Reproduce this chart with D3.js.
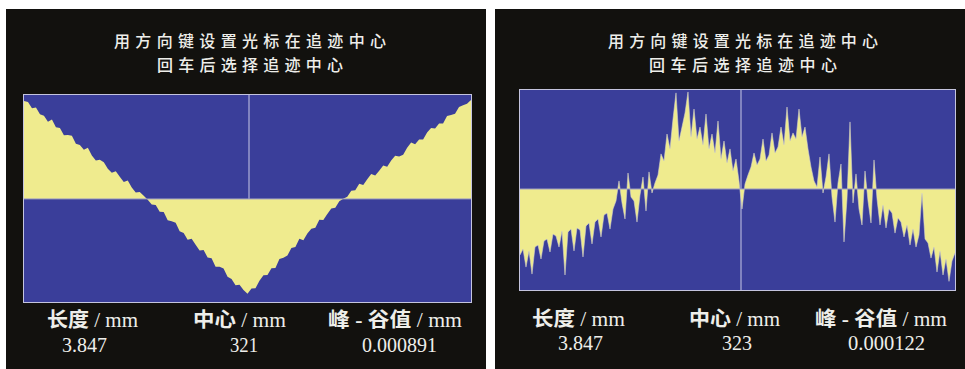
<!DOCTYPE html>
<html>
<head>
<meta charset="utf-8">
<script src="https://cdn.jsdelivr.net/npm/d3@7/dist/d3.min.js"></script>
<style>
  html, body { margin: 0; padding: 0; background: #ffffff; }
  svg { display: block; }
</style>
</head>
<body>
<svg id="chart" width="965" height="369"></svg>
<script>
// Screen text
const titleLines = ["用方向键设置光标在追迹中心", "回车后选择追迹中心"];
const statLabels = [["长度", " / mm"], ["中心", " / mm"], ["峰 - 谷值", " / mm"]];
const leftStats = ["3.847", "321", "0.000891"];
const rightStats = ["3.847", "323", "0.000122"];

// Left trace: surface profile deviation, µm (peak - valley = 0.891 µm)
const leftProfile = [
  0.450, 0.445, 0.417, 0.420, 0.389, 0.382, 0.354, 0.365, 0.329, 0.326,
  0.293, 0.294, 0.290, 0.253, 0.248, 0.226, 0.235, 0.199, 0.177, 0.180,
  0.169, 0.139, 0.120, 0.127, 0.102, 0.078, 0.085, 0.053, 0.029, 0.032,
  0.015, -0.004, -0.026, -0.028, -0.059, -0.060, -0.098, -0.103, -0.109, -0.149,
  -0.157, -0.188, -0.183, -0.211, -0.237, -0.234, -0.269, -0.273, -0.312, -0.311,
  -0.320, -0.357, -0.368, -0.396, -0.394, -0.418, -0.436, -0.411, -0.410, -0.376,
  -0.350, -0.349, -0.318, -0.317, -0.276, -0.270, -0.260, -0.225, -0.221, -0.183,
  -0.190, -0.159, -0.137, -0.132, -0.096, -0.097, -0.069, -0.044, -0.040, -0.011,
  0.001, 0.010, 0.038, 0.040, 0.070, 0.064, 0.090, 0.115, 0.108, 0.130,
  0.154, 0.148, 0.177, 0.198, 0.195, 0.203, 0.235, 0.259, 0.251, 0.273,
  0.273, 0.305, 0.326, 0.324, 0.346, 0.347, 0.381, 0.385, 0.391, 0.422,
  0.430, 0.437, 0.455
];

// Right trace: surface profile deviation, µm (peak - valley = 0.122 µm)
const rightProfile = [
  -0.0425, -0.0387, -0.0503, -0.0399, -0.0548, -0.0374, -0.0361, -0.0451, -0.0335, -0.0322,
  -0.0406, -0.0290, -0.0303, -0.0374, -0.0271, -0.0554, -0.0277, -0.0258, -0.0399, -0.0251,
  -0.0264, -0.0438, -0.0238, -0.0219, -0.0354, -0.0213, -0.0193, -0.0309, -0.0168, -0.0155,
  -0.0258, -0.0129, -0.0077, 0.0052, -0.0090, -0.0193, 0.0103, -0.0052, -0.0077, -0.0213,
  -0.0039, 0.0077, -0.0142, 0.0110, -0.0026, 0.0039, 0.0090, 0.0226, 0.0180, 0.0354,
  0.0258, 0.0451, 0.0619, 0.0309, 0.0399, 0.0490, 0.0625, 0.0335, 0.0515, 0.0322,
  0.0399, 0.0284, 0.0483, 0.0258, 0.0354, 0.0232, 0.0438, 0.0193, 0.0309, 0.0168,
  0.0258, 0.0116, 0.0193, 0.0052, -0.0129, 0.0032, 0.0090, 0.0142, 0.0232, 0.0155,
  0.0193, 0.0322, 0.0180, 0.0219, 0.0361, 0.0232, 0.0271, 0.0399, 0.0284, 0.0528,
  0.0309, 0.0361, 0.0322, 0.0515, 0.0335, 0.0399, 0.0258, 0.0142, 0.0052, 0.0013,
  0.0206, -0.0026, 0.0077, 0.0226, -0.0052, -0.0213, 0.0039, 0.0161, -0.0341, -0.0064,
  0.0432, -0.0090, 0.0097, -0.0129, -0.0232, 0.0116, -0.0077, -0.0219, 0.0187, -0.0064,
  -0.0232, -0.0103, -0.0251, -0.0129, -0.0155, -0.0284, -0.0187, -0.0213, -0.0309, -0.0232,
  -0.0361, -0.0258, -0.0374, -0.0296, -0.0026, -0.0322, -0.0348, -0.0445, -0.0374, -0.0535,
  -0.0399, -0.0554, -0.0451, -0.0595, -0.0464, -0.0412
];

const COLORS = {
  page: "#ffffff",
  panel: "#12110e",
  plot: "#3a3e9a",
  trace: "#efeb8e",
  frame: "#c4c4de",
  baseline: "#9c9cc0",
  cursor: "#c8c8e6",
  spike: "#d6d4cc",
  text: "#eeeeea"
};

const panels = [
  {
    profile: leftProfile, stats: leftStats,
    box: { x: 6, y: 9, w: 480, h: 360 },
    plot: { x0: 23, x1: 472, y0: 94, y1: 303 },
    yDomain: [-0.478, 0.482],
    cursorX: 249, cursorFull: false,
    titleX: 250, titleW: [272, 186],
    labelX: [92.5, 239.5, 395], labelW: [91, 93, 134], labelY: 327,
    valueX: [84.5, 244, 399.5], valueW: [45, 28, 75], valueY: 352,
    spikes: false
  },
  {
    profile: rightProfile, stats: rightStats,
    box: { x: 495, y: 9, w: 470, h: 360 },
    plot: { x0: 519, x1: 956, y0: 89, y1: 291 },
    yDomain: [-0.0657, 0.0644],
    cursorX: 741, cursorFull: true,
    titleX: 743, titleW: [270, 188],
    labelX: [578.5, 734.5, 881], labelW: [93, 91, 132], labelY: 326,
    valueX: [580.5, 737, 886.5], valueW: [45, 30, 77], valueY: 350,
    spikes: true
  }
];

const svg = d3.select("#chart");
svg.append("rect").attr("width", 965).attr("height", 369).attr("fill", COLORS.page);

panels.forEach(p => {
  const g = svg.append("g");

  g.append("rect")
    .attr("x", p.box.x).attr("y", p.box.y)
    .attr("width", p.box.w).attr("height", p.box.h)
    .attr("fill", COLORS.panel);

  // two-line prompt
  titleLines.forEach((t, i) => {
    g.append("text")
      .attr("x", p.titleX).attr("y", i === 0 ? 47 : 70.5)
      .attr("text-anchor", "middle")
      .attr("textLength", p.titleW[i])
      .attr("lengthAdjust", "spacing")
      .attr("font-family", "'Noto Sans CJK SC', sans-serif")
      .attr("font-size", 16)
      .attr("font-weight", 500)
      .attr("fill", COLORS.text)
      .text(t);
  });

  const x = d3.scaleLinear()
    .domain([0, p.profile.length - 1])
    .range([p.plot.x0 + 1, p.plot.x1 - 1]);
  const y = d3.scaleLinear()
    .domain(p.yDomain)
    .range([p.plot.y1, p.plot.y0]);

  // plot background
  g.append("rect")
    .attr("x", p.plot.x0).attr("y", p.plot.y0)
    .attr("width", p.plot.x1 - p.plot.x0).attr("height", p.plot.y1 - p.plot.y0)
    .attr("fill", COLORS.plot);

  // cursor line at tracking centre
  g.append("line")
    .attr("x1", p.cursorX).attr("x2", p.cursorX)
    .attr("y1", p.plot.y0)
    .attr("y2", p.cursorFull ? p.plot.y1 : y(0))
    .attr("stroke", COLORS.cursor).attr("stroke-width", 1);

  // profile filled against the zero line
  const area = d3.area()
    .x((d, i) => x(i))
    .y0(y(0))
    .y1(d => y(d));

  g.append("path")
    .datum(p.profile)
    .attr("d", area)
    .attr("fill", COLORS.trace);

  if (p.spikes) {
    const line = d3.line().x((d, i) => x(i)).y(d => y(d));
    g.append("path")
      .datum(p.profile)
      .attr("d", line)
      .attr("fill", "none")
      .attr("stroke", COLORS.spike)
      .attr("stroke-width", 0.8)
      .attr("opacity", 0.7);
  }

  // zero line
  g.append("line")
    .attr("x1", p.plot.x0).attr("x2", p.plot.x1)
    .attr("y1", y(0)).attr("y2", y(0))
    .attr("stroke", COLORS.baseline).attr("stroke-width", 1);

  // plot frame
  g.append("rect")
    .attr("x", p.plot.x0 + 0.5).attr("y", p.plot.y0 + 0.5)
    .attr("width", p.plot.x1 - p.plot.x0 - 1).attr("height", p.plot.y1 - p.plot.y0 - 1)
    .attr("fill", "none")
    .attr("stroke", COLORS.frame).attr("stroke-width", 1);

  // readouts: length, centre, peak-to-valley
  statLabels.forEach((parts, i) => {
    const t = g.append("text")
      .attr("x", p.labelX[i]).attr("y", p.labelY)
      .attr("text-anchor", "middle")
      .attr("textLength", p.labelW[i])
      .attr("lengthAdjust", "spacingAndGlyphs")
      .attr("font-family", "'Liberation Serif', 'Noto Sans CJK SC', serif")
      .attr("font-size", 20)
      .attr("fill", COLORS.text);
    t.append("tspan").attr("font-weight", "bold").text(parts[0]);
    t.append("tspan").text(parts[1]);
  });
  p.stats.forEach((t, i) => {
    g.append("text")
      .attr("x", p.valueX[i]).attr("y", p.valueY)
      .attr("text-anchor", "middle")
      .attr("textLength", p.valueW[i])
      .attr("lengthAdjust", "spacingAndGlyphs")
      .attr("font-family", "'Liberation Serif', serif")
      .attr("font-size", 21)
      .attr("fill", COLORS.text)
      .text(t);
  });
});
</script>
</body>
</html>
